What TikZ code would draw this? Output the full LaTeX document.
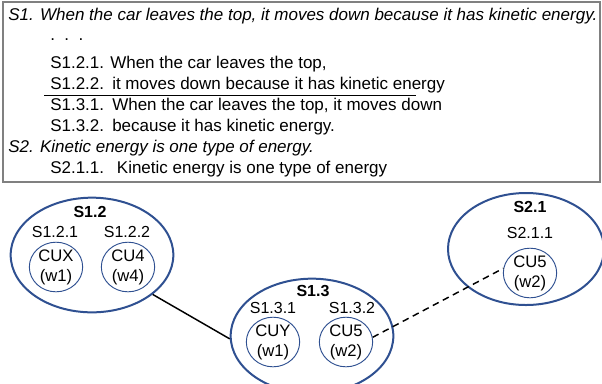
\documentclass[tikz,border=0pt]{standalone}
\usepackage{fontspec}
\setmainfont{Liberation Sans}
\usetikzlibrary{shapes.geometric}
\definecolor{CuBlue}{HTML}{2F5091}
\definecolor{BoxGray}{HTML}{808080}

\begin{document}
\begin{tikzpicture}[x=0.75pt,y=-0.75pt,
  every node/.style={font=\fontsize{12pt}{14pt}\selectfont},
  textline/.style={anchor=base west,inner sep=0pt,font=\fontsize{12.75pt}{15pt}\selectfont},
  sentence/.style={draw=CuBlue,line width=1.5pt,ellipse,minimum width=122pt,minimum height=86pt,inner sep=0pt},
  cunit/.style={draw=CuBlue,line width=0.7pt,ellipse,minimum width=40pt,minimum height=33pt,inner sep=0pt,align=center,font=\fontsize{12.5pt}{15pt}\selectfont},
  clabel/.style={inner sep=0pt}
]
\clip (0,0) rectangle (602,383);
\fill[white] (0,0) rectangle (602,383);
\draw[BoxGray,line width=0.8pt] (3,2) rectangle (600,182);
\node[textline] (l1) at (8,20) {\itshape S1. When the car leaves the top, it moves down because it has kinetic energy.};
\node[textline] (l2) at (50,40) {.\ \ .\ \ .};
\node[textline] (l3) at (50,68) {\makebox[45pt][l]{S1.2.1.}When the car leaves the top,};
\node[textline] (l4) at (50,89) {\makebox[46.5pt][l]{S1.2.2.}it moves down because it has kinetic energy};
\draw[line width=0.6pt] (44,95) -- (416,95);
\node[textline] (l5) at (50,110) {\makebox[46.5pt][l]{S1.3.1.}When the car leaves the top, it moves down};
\node[textline] (l6) at (50,131) {\makebox[46.5pt][l]{S1.3.2.}because it has kinetic energy.};
\node[textline] (l7) at (8,152) {\itshape S2. Kinetic energy is one type of energy.};
\node[textline] (l8) at (50,173) {\makebox[50pt][l]{S2.1.1.}Kinetic energy is one type of energy};

\node[sentence] (s12) at (92,255) {};
\node[sentence] (s13) at (312,336) {};
\node[sentence,minimum width=117pt,minimum height=84pt] (s21) at (526,249) {};

\node[clabel,font=\fontsize{12pt}{14pt}\selectfont\bfseries] (t12) at (90,212) {S1.2};
\node[clabel] (t121) at (55,232) {S1.2.1};
\node[clabel] (t122) at (127,232) {S1.2.2};
\node[cunit] (cux) at (56,267) {CUX\\(w1)};
\node[cunit] (cu4) at (128,267) {CU4\\(w4)};

\node[clabel,font=\fontsize{12pt}{14pt}\selectfont\bfseries] (t13) at (313,291) {S1.3};
\node[clabel] (t131) at (273,308) {S1.3.1};
\node[clabel] (t132) at (352,308) {S1.3.2};
\node[cunit] (cuy) at (273,342) {CUY\\(w1)};
\node[cunit] (cu5a) at (346,342) {CU5\\(w2)};

\node[clabel,font=\fontsize{12pt}{14pt}\selectfont\bfseries] (t21) at (530,207) {S2.1};
\node[clabel] (t211) at (530,233) {S2.1.1};
\node[cunit] (cu5b) at (530,273) {CU5\\(w2)};

\draw[line width=1.1pt] (s12.-33) -- (s13.182);
\draw[line width=1.1pt,dash pattern=on 5pt off 3.5pt] (cu5a.10) -- (cu5b.170);
\end{tikzpicture}
\end{document}
